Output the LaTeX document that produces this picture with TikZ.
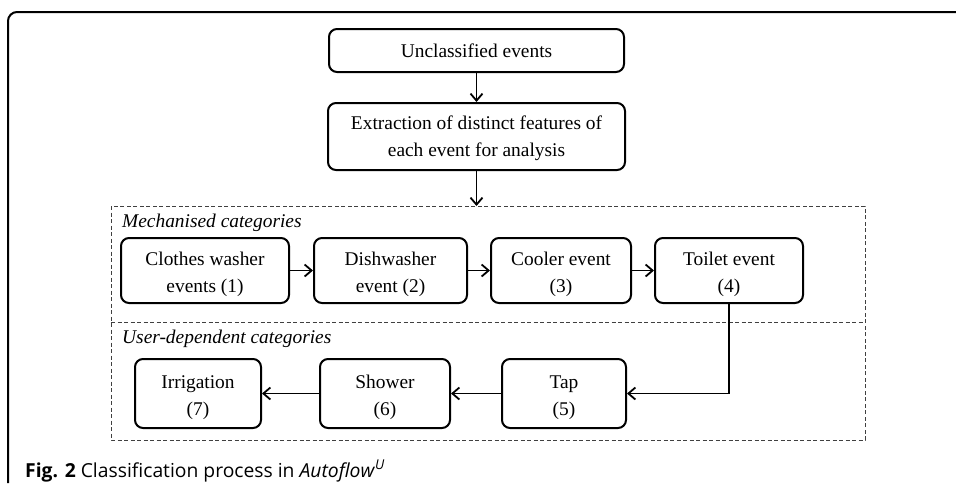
\documentclass[tikz,border=0pt]{standalone}
\usepackage{fontspec}
\setmainfont{Liberation Serif}
\newfontfamily\capfont{Open Sans}
\usetikzlibrary{arrows.meta}
\newcommand{\dn}{\rule{0pt}{22pt}}
\tikzset{
  box/.style={draw=black, line width=2pt, rounded corners=8pt, inner sep=0pt, align=center,
    font=\fontsize{19.4}{27}\selectfont},
  arr/.style={line width=1.8pt, -{Straight Barb[length=7pt,width=12pt,line width=1.8pt]}},
  dashline/.style={draw=black!75, line width=1pt, dash pattern=on 4pt off 2.5pt},
  lbl/.style={anchor=base west, inner sep=0pt, font=\fontsize{19.4}{23}\selectfont\itshape}
}
\begin{document}
\begin{tikzpicture}[x=1pt,y=-1pt]
\useasboundingbox (0,0) rectangle (956,483);
% outer frame
\draw[line width=2pt, rounded corners=9pt] (8,483) -- (8,12) -- (956,12);
% dashed container
\draw[dashline] (111,206) rectangle (865,440);
\draw[dashline] (111,322) -- (865,322);
\node[lbl] (mech) at (122,227) {Mechanised categories};
\node[lbl] (user) at (122,343) {User-dependent categories};
% nodes
\node[box, minimum width=295pt, minimum height=43pt] (un) at (476.5,50.5) {Unclassified events};
\node[box, minimum width=297pt, minimum height=67pt] (ex) at (476.5,136.5) {\rule{0pt}{18pt}Extraction of distinct features of\\each event for analysis};
\coordinate (top) at (476.5,206);
\node[box, minimum width=168pt, minimum height=65pt] (c1) at (205,270.5) {\dn Clothes washer\\events (1)};
\node[box, minimum width=153pt, minimum height=65pt] (c2) at (390.5,270.5) {\dn Dishwasher\\event (2)};
\node[box, minimum width=140pt, minimum height=65pt] (c3) at (561,270.5) {\dn Cooler event\\(3)};
\node[box, minimum width=148pt, minimum height=65pt] (c4) at (729,270.5) {\dn Toilet event\\(4)};
\node[box, minimum width=124pt, minimum height=69pt] (r5) at (564,393.5) {\dn Tap\\(5)};
\node[box, minimum width=130pt, minimum height=69pt] (r6) at (385,393.5) {\dn Shower\\(6)};
\node[box, minimum width=126pt, minimum height=69pt] (r7) at (198,393.5) {\dn Irrigation\\(7)};
% connectors
\draw[arr] (un) -- (ex);
\draw[arr] (ex) -- (top);
\draw[arr] (c1) -- (c2);
\draw[arr] (c2) -- (c3);
\draw[arr] (c3) -- (c4);
\draw[arr] (c4.south) |- (r5.east);
\draw[arr] (r5) -- (r6);
\draw[arr] (r6) -- (r7);
% caption
\node[anchor=base west, inner sep=0pt, font=\capfont\fontsize{19.3}{21}\selectfont] (cap) at (25,477)
  {\textbf{Fig. 2} Classification process in \textit{Autoflow}\textsuperscript{\textit{U}}};
\end{tikzpicture}
\end{document}
